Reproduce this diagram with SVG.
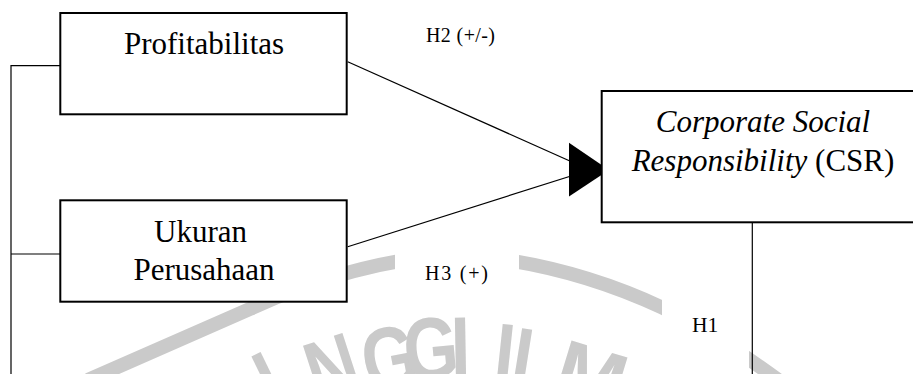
<svg xmlns="http://www.w3.org/2000/svg" width="913" height="374" viewBox="0 0 913 374">
<defs>
<style>
.box{fill:#fff;stroke:#000;stroke-width:2}
.ln{fill:none;stroke:#000;stroke-width:1.2}
.t{font-family:"Liberation Serif","Times New Roman",serif;fill:#000}
.big{font-size:31px;text-anchor:middle}
.lab{font-size:20px}
.it{font-style:italic}
.wm{font-family:"Liberation Sans",Arial,sans-serif;font-weight:bold;font-size:88px;fill:#cacaca;text-anchor:middle}
.mask{fill:#fff}
</style>
</defs>
<rect width="913" height="374" fill="#fff"/>
<g id="watermark">
<path d="M 88 380 L 250 309 Q 350 262 455 254 Q 565 262 662 307.5 Q 715 333 785 385" fill="none" stroke="#cacaca" stroke-width="14"/>
<text class="wm" transform="translate(282.6 408.6) rotate(-26) scale(0.8 1)">I</text>
<text class="wm" transform="translate(341.5 396.9) rotate(-18) scale(0.8 1)">N</text>
<text class="wm" transform="translate(395 387.8) rotate(-11) scale(0.8 1)">G</text>
<text class="wm" transform="translate(433.5 378.8) rotate(-5) scale(0.8 1)">G</text>
<text class="wm" transform="translate(461.1 378) rotate(-1) scale(0.8 1)">I</text>
<text class="wm" transform="translate(501.4 384.7) rotate(6) scale(0.8 1)">I</text>
<text class="wm" transform="translate(529.3 390.7) rotate(9) scale(0.8 1)">L</text>
<text class="wm" transform="translate(581.8 407) rotate(17) scale(0.95 1)">M</text>
</g>
<g id="connectors">
<path class="ln" d="M60 65.7 H11 V374"/>
<path class="ln" d="M11 254 H60"/>
<path class="ln" d="M347.7 61.7 L590 170"/>
<path class="ln" d="M347.7 246.7 L590 170"/>
<polygon points="569,142.7 609,170 569,196.5" fill="#000"/>
<path class="ln" d="M752.3 222 V374"/>
</g>
<g id="node-profitabilitas">
<rect class="box" x="60.3" y="13" width="286.4" height="101.3"/>
<text class="t big" x="204" y="53.5">Profitabilitas</text>
</g>
<g id="node-ukuran">
<rect class="box" x="60.3" y="200.3" width="286.4" height="101.4"/>
<text class="t big" x="200.5" y="241.7">Ukuran</text>
<text class="t big" x="204" y="280">Perusahaan</text>
</g>
<g id="node-csr">
<rect class="box" x="601.7" y="91" width="330" height="131.3"/>
<text class="t big" x="763" y="131.7"><tspan class="it">Corporate Social</tspan></text>
<text class="t big" x="763" y="171"><tspan class="it">Responsibility</tspan> (CSR)</text>
</g>
<g id="labels">
<text class="t lab" x="426" y="41.7" textLength="69">H2 (+/-)</text>
<rect class="mask" x="395" y="246" width="124" height="54"/>
<text class="t lab" x="425" y="280" textLength="63">H3 (+)</text>
<rect class="mask" x="662" y="285" width="87" height="89"/>
<text class="t" x="692" y="331.7" font-size="21.5">H1</text>
</g>
</svg>
